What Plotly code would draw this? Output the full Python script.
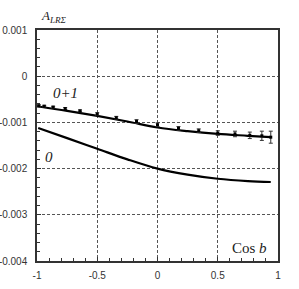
import plotly.graph_objects as go

# Data points (0+1) with error bars
pts_x = [-0.985, -0.940, -0.866, -0.766, -0.643, -0.500, -0.342, -0.174,
         0.000, 0.174, 0.342, 0.500, 0.643, 0.766, 0.866, 0.940]
pts_y = [-0.00064, -0.00065, -0.00067, -0.00070, -0.00075, -0.00082, -0.00090, -0.00098,
         -0.00105, -0.00113, -0.00118, -0.00123, -0.00125, -0.00128, -0.00129, -0.00132]
pts_err = [0.00002, 0.00002, 0.00002, 0.00002, 0.00002, 0.00003, 0.00003, 0.00004,
           0.00004, 0.00004, 0.00004, 0.00005, 0.00006, 0.00007, 0.00010, 0.00013]

# Curve "0+1"
c01_x = [-1.0, -0.75, -0.5, -0.25, 0.0, 0.25, 0.5, 0.75, 0.94]
c01_y = [-0.00065, -0.00075, -0.00086, -0.00098, -0.00111, -0.00119, -0.00125, -0.00129, -0.00132]

# Curve "0"
c0_x = [-0.99, -0.75, -0.5, -0.25, 0.0, 0.25, 0.5, 0.75, 0.94]
c0_y = [-0.00112, -0.00134, -0.00157, -0.00180, -0.00200, -0.00213, -0.00222, -0.00227, -0.00229]

x_ticks = [-1, -0.5, 0, 0.5, 1]
x_labels = ["-1", "-0.5", "0", "0.5", "1"]
y_ticks = [0.001, 0, -0.001, -0.002, -0.003, -0.004]
y_labels = ["0.001", "0", "-0.001", "-0.002", "-0.003", "-0.004"]

fig = go.Figure()
fig.add_trace(go.Scatter(x=c01_x, y=c01_y, mode="lines", line=dict(color="black", width=2.2, shape="spline"),
                         hoverinfo="skip"))
fig.add_trace(go.Scatter(x=c0_x, y=c0_y, mode="lines", line=dict(color="black", width=2.2, shape="spline"),
                         hoverinfo="skip"))
fig.add_trace(go.Scatter(x=pts_x, y=pts_y, mode="markers",
                         marker=dict(color="black", size=3, symbol="square"),
                         error_y=dict(type="data", array=pts_err, color="#333", thickness=1, width=2)))

W, H = 299, 289
L, R, T, B = 37, 21, 30, 28
pw, ph = W - L - R, H - T - B

serif = "Liberation Serif"
annotations = [
    dict(text="<i>A<sub>LRΣ</sub></i>", x=39, y=27, xanchor="left", yanchor="bottom", size=13),
    dict(text="<i>0+1</i>", x=65.5, y=92.5, xanchor="center", yanchor="middle", size=15),
    dict(text="<i>0</i>", x=48.5, y=157, xanchor="center", yanchor="middle", size=15),
    dict(text="Cos <i>b</i>", x=249, y=248, xanchor="center", yanchor="middle", size=15),
]
for a in annotations:
    fig.add_annotation(
        x=(a["x"] - L) / pw, y=1 - (a["y"] - T) / ph, xref="paper", yref="paper",
        text=a["text"], showarrow=False, xanchor=a["xanchor"], yanchor=a["yanchor"],
        font=dict(family=serif, size=a["size"], color="#222"))

tickfont = dict(family="Liberation Sans", size=10, color="#333")
common = dict(showgrid=True, gridcolor="#555", griddash="3px,2px", gridwidth=1, zeroline=False,
              showline=True, linecolor="#333", linewidth=1.5, mirror=True,
              ticks="inside", ticklen=4, tickcolor="#333", tickfont=tickfont, automargin=False)
fig.update_layout(
    width=W, height=H, margin=dict(l=L, r=R, t=T, b=B),
    paper_bgcolor="white", plot_bgcolor="white", showlegend=False,
    xaxis=dict(range=[-1, 1], tickvals=x_ticks, ticktext=x_labels,
               minor=dict(dtick=0.1, ticks="inside", ticklen=3, tickcolor="#333", showgrid=False),
               ticklabelstandoff=4, **common),
    yaxis=dict(range=[-0.004, 0.001], tickvals=y_ticks, ticktext=y_labels,
               minor=dict(dtick=0.0002, ticks="inside", ticklen=3, tickcolor="#333", showgrid=False),
               ticklabelstandoff=6, **common),
)
fig.write_html("out.html", config={"displayModeBar": False},
               post_script="document.body.style.margin='0';")
